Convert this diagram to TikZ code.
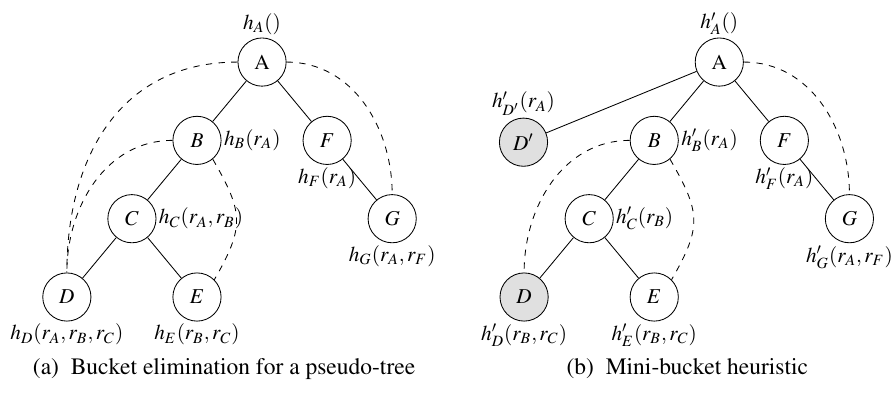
\documentclass[tikz,border=0pt]{standalone}
\usepackage[T1]{fontenc}
\usepackage{mathptmx}
\usepackage{tikz}
\usetikzlibrary{positioning}

\begin{document}
\begin{tikzpicture}[node distance=1.3cm and 1.08cm,
					vtx/.style={circle, draw, on grid, minimum size=.8cm, inner sep=0pt},
					mini/.style={vtx, fill=black!12},
					tag/.style={inner sep=1pt},
					gap/.style={dashed},
					caption/.style={font=\fontsize{11.1pt}{13.5pt}\selectfont}
				]
				\useasboundingbox (-4.35,-5.48) rectangle (10.49,1.03);
				% (a) bucket elimination
				\node[vtx] (bA) at (0,0) {A};
				\node[vtx] (bB) [below left=of bA] {$B$};
				\node[vtx] (bF) [below right=of bA] {$F$};
				\node[vtx] (bC) [below left=of bB] {$C$};
				\node[vtx] (bG) [below right=of bF] {$G$};
				\node[vtx] (bD) [below left=of bC] {$D$};
				\node[vtx] (bE) [below right=of bC] {$E$};
				
				\node[tag] (hbA) [above=0pt of bA] {$h_A()$};
				\node[tag] (hbB) [right=0pt of bB] {$h_B(r_A)$};
				\node[tag] (hbF) [below=0pt of bF] {$h_F(r_A)$};
				\node[tag] (hbC) [right=0pt of bC] {$h_C(r_A,r_B)$};
				\node[tag] (hbG) [below=0pt of bG] {$h_G(r_A,r_F)$};
				\node[tag] (hbD) [below=0pt of bD] {$h_D(r_A,r_B,r_C)$};
				\node[tag] (hbE) [below=0pt of bE] {$h_E(r_B,r_C)$};
				
				\draw (bA) -- (bB) (bA) -- (bF) (bB) -- (bC) (bF) -- (bG)
					(bC) -- (bD) (bC) -- (bE);
				\draw[gap] (bA.west) to[out=180, in=90, looseness=1.1] (bD.north);
				\draw[gap] (bB.west) to[out=180, in=90] (bD.north);
				\draw[gap] (bB.-50) to[out=-60, in=60, looseness=1.3] (bE.45);
				\draw[gap] (bA.east) to[out=0, in=90] (bG.north);
				
				\node[caption] (capa) at (-.63,-5.09) {(a)~~Bucket elimination for a pseudo-tree};
				
				% (b) mini-bucket
				\node[vtx] (mA) at (7.59,0) {A};
				\node[mini] (mDp) [below left=1.33cm and 3.25cm of mA] {$D'$};
				\node[vtx] (mB) [below left=of mA] {$B$};
				\node[vtx] (mF) [below right=of mA] {$F$};
				\node[vtx] (mC) [below left=of mB] {$C$};
				\node[vtx] (mG) [below right=of mF] {$G$};
				\node[mini] (mD) [below left=of mC] {$D$};
				\node[vtx] (mE) [below right=of mC] {$E$};
				
				\node[tag] (hmA) [above=0pt of mA] {$h'_A()$};
				\node[tag] (hmDp) [above=0pt of mDp] {$h'_{D'}(r_A)$};
				\node[tag] (hmB) [right=0pt of mB] {$h'_B(r_A)$};
				\node[tag] (hmF) [below=0pt of mF] {$h'_F(r_A)$};
				\node[tag] (hmC) [right=0pt of mC] {$h'_C(r_B)$};
				\node[tag] (hmG) [below=0pt of mG] {$h'_G(r_A,r_F)$};
				\node[tag] (hmD) [below=0pt of mD] {$h'_D(r_B,r_C)$};
				\node[tag] (hmE) [below=0pt of mE] {$h'_E(r_B,r_C)$};
				
				\draw (mA) -- (mDp) (mA) -- (mB) (mA) -- (mF) (mB) -- (mC)
					(mF) -- (mG) (mC) -- (mD) (mC) -- (mE);
				\draw[gap] (mB.west) to[out=180, in=90] (mD.north);
				\draw[gap] (mB.-50) to[out=-60, in=60, looseness=1.3] (mE.45);
				\draw[gap] (mA.east) to[out=0, in=90] (mG.north);
				
				\node[caption] (capb) at (7.06,-5.09) {(b)~~Mini-bucket heuristic};
			\end{tikzpicture}
\end{document}
